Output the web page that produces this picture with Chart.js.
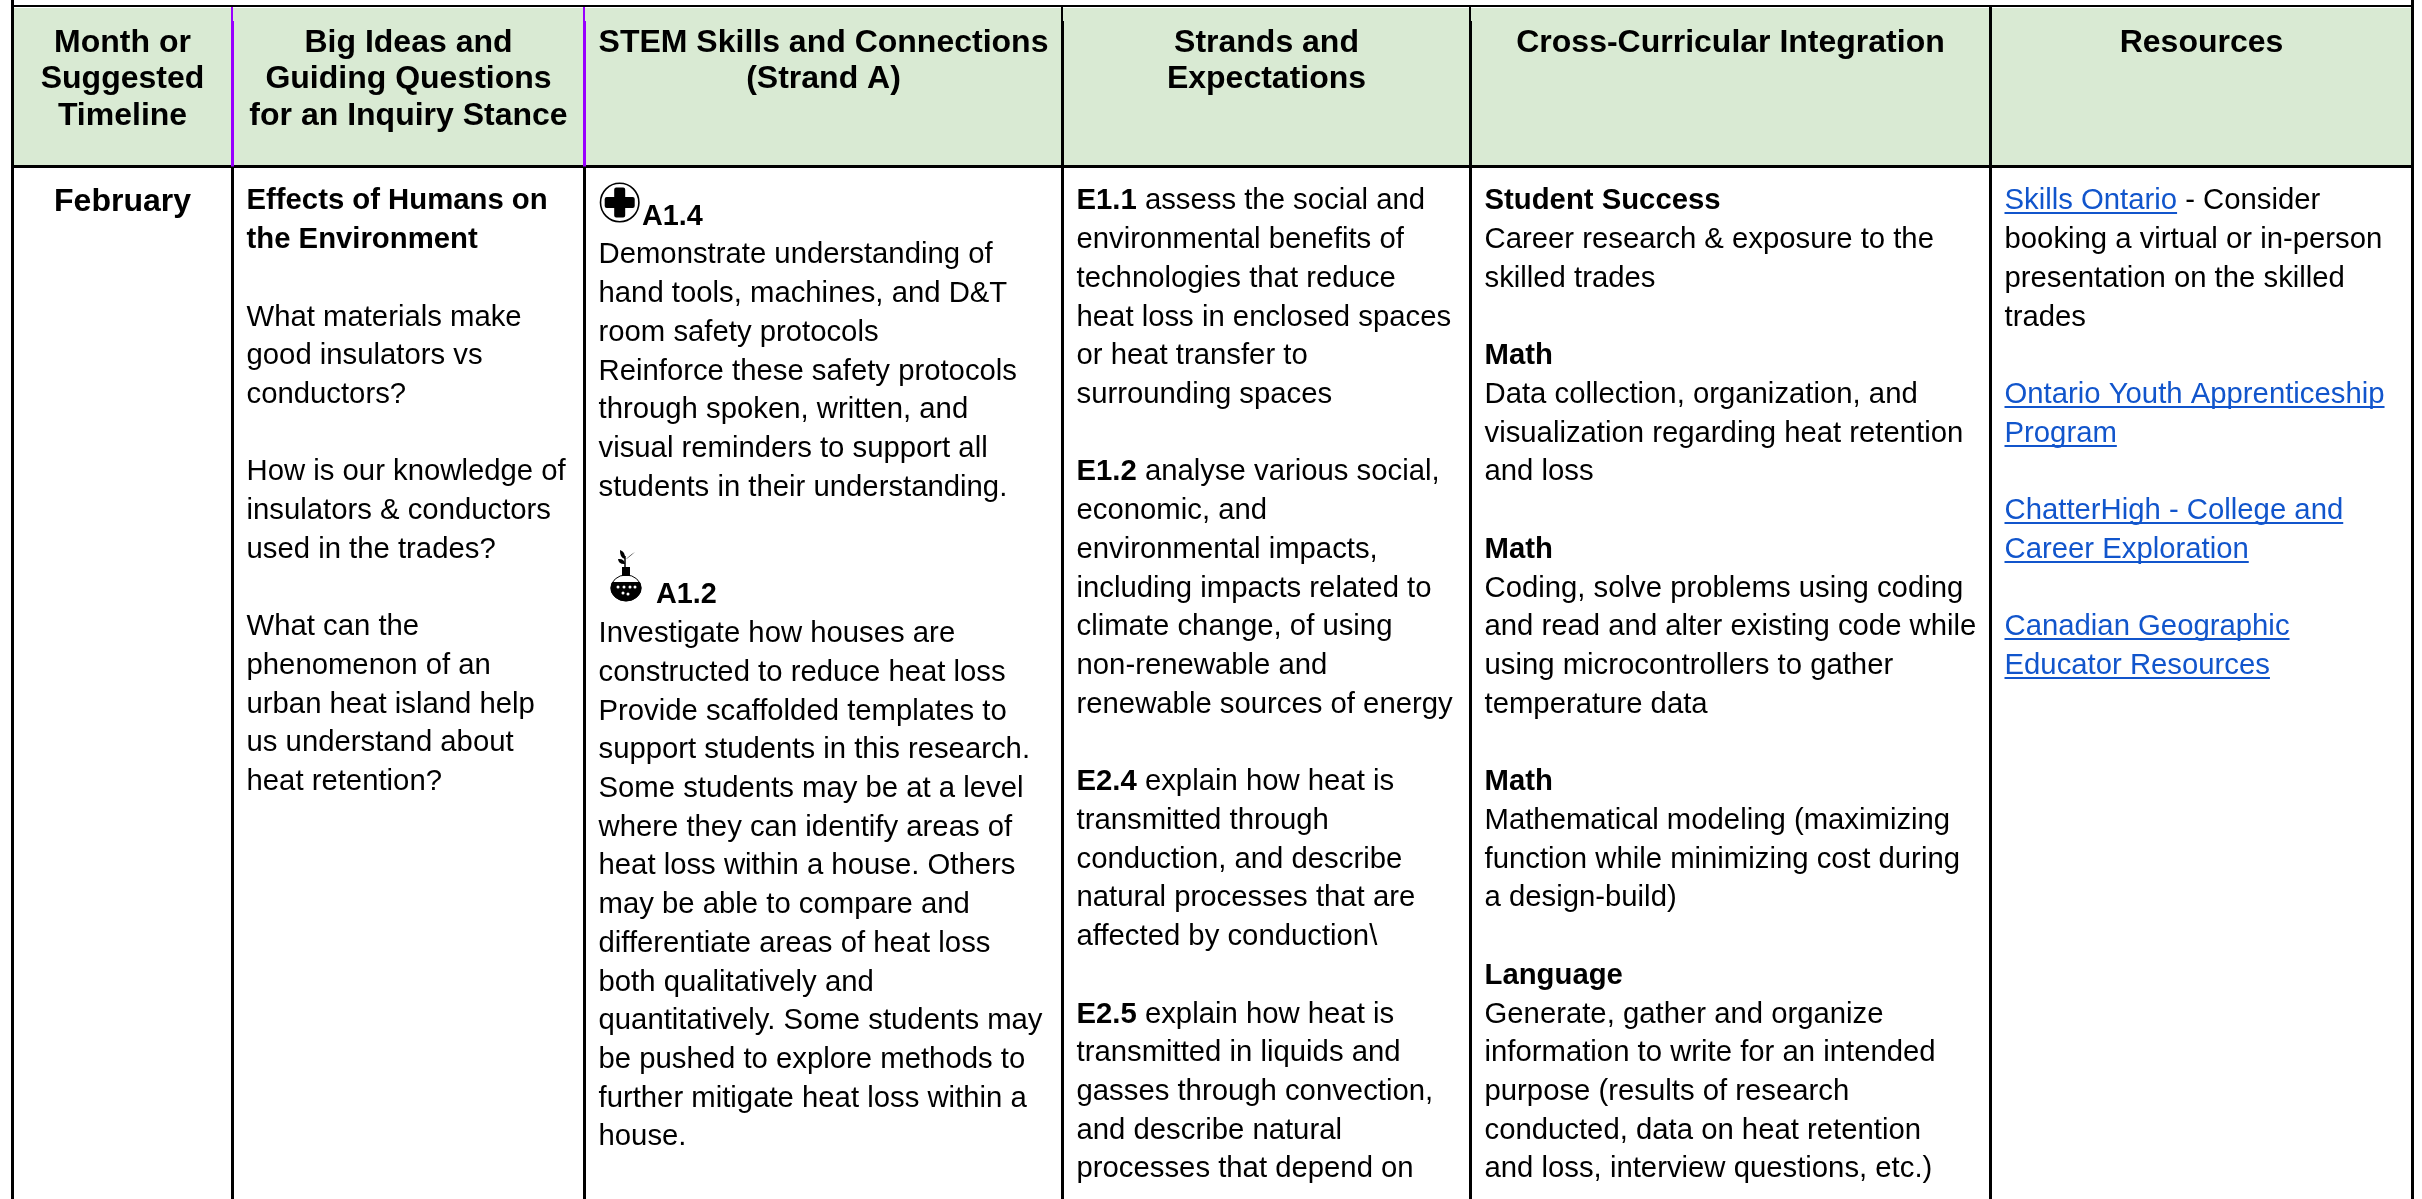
<!DOCTYPE html>
<html>
<head>
<meta charset="utf-8">
<style>html,body{margin:0;padding:0;background:#fff}canvas{display:block}</style>
<script src="https://cdn.jsdelivr.net/npm/chart.js@4"></script>
</head>
<body>
<canvas id="c" width="2422" height="1199"></canvas>
<script>
// ---- table content -----------------------------------------------------
const columnEdges = [12.5, 232.5, 584.5, 1062.5, 1470.5, 1990.5, 2412.5];
const rowEdges = [6, 166.5];
const headers = [
  ["Month or", "Suggested", "Timeline"],
  ["Big Ideas and", "Guiding Questions", "for an Inquiry Stance"],
  ["STEM Skills and Connections", "(Strand A)"],
  ["Strands and", "Expectations"],
  ["Cross-Curricular Integration"],
  ["Resources"]
];
const monthColumn = ["February"];
const bigIdeas = [
  "*Effects of Humans on", "*the Environment", "",
  "What materials make", "good insulators vs", "conductors?", "",
  "How is our knowledge of", "insulators & conductors", "used in the trades?", "",
  "What can the", "phenomenon of an", "urban heat island help", "us understand about", "heat retention?"
];
const stemSafety = [
  "Demonstrate understanding of", "hand tools, machines, and D&T", "room safety protocols",
  "Reinforce these safety protocols", "through spoken, written, and",
  "visual reminders to support all", "students in their understanding."
];
const stemHeat = [
  "Investigate how houses are", "constructed to reduce heat loss", "Provide scaffolded templates to",
  "support students in this research.", "Some students may be at a level", "where they can identify areas of",
  "heat loss within a house. Others", "may be able to compare and", "differentiate areas of heat loss",
  "both qualitatively and", "quantitatively. Some students may", "be pushed to explore methods to",
  "further mitigate heat loss within a", "house."
];
const stemCodes = ["A1.4", "A1.2"];
const strands = [
  "[E1.1] assess the social and", "environmental benefits of", "technologies that reduce",
  "heat loss in enclosed spaces", "or heat transfer to", "surrounding spaces", "",
  "[E1.2] analyse various social,", "economic, and", "environmental impacts,",
  "including impacts related to", "climate change, of using", "non-renewable and",
  "renewable sources of energy", "",
  "[E2.4] explain how heat is", "transmitted through", "conduction, and describe",
  "natural processes that are", "affected by conduction\\", "",
  "[E2.5] explain how heat is", "transmitted in liquids and", "gasses through convection,",
  "and describe natural", "processes that depend on"
];
const crossCurricular = [
  "*Student Success", "Career research & exposure to the", "skilled trades", "",
  "*Math", "Data collection, organization, and", "visualization regarding heat retention", "and loss", "",
  "*Math", "Coding, solve problems using coding", "and read and alter existing code while",
  "using microcontrollers to gather", "temperature data", "",
  "*Math", "Mathematical modeling (maximizing", "function while minimizing cost during", "a design-build)", "",
  "*Language", "Generate, gather and organize", "information to write for an intended",
  "purpose (results of research", "conducted, data on heat retention", "and loss, interview questions, etc.)"
];
const resources = [
  "{Skills Ontario} - Consider", "booking a virtual or in-person", "presentation on the skilled", "trades", "",
  "{Ontario Youth Apprenticeship}", "{Program}", "",
  "{ChatterHigh - College and}", "{Career Exploration}", "",
  "{Canadian Geographic}", "{Educator Resources}"
];

// ---- style --------------------------------------------------------------
const FONT = '"Liberation Sans", Arial, sans-serif';
const BODY = 29.3, HEAD = 32, CODE = 28.8, PITCH = 38.72, HEADPITCH = 36.7;
const INK = "#000000", LINK = "#1155cc", HEADFILL = "#d9ead3", PURPLE = "#9900ff";
const PAD = 14, BOTTOM = 1199, HEADBASE = 51.5, BODYBASE = 209.4, FILLTOP = 8;

function seg(x0, y0, x1, y1, color, w, extra) {
  return Object.assign({
    data: [{x: x0, y: y0}, {x: x1, y: y1}],
    showLine: true, pointRadius: 0, borderColor: color, borderWidth: w, borderCapStyle: "butt"
  }, extra || {});
}
const right = columnEdges[columnEdges.length - 1];
const datasets = [];
datasets.push(seg(columnEdges[0], rowEdges[0], right, rowEdges[0], INK, 2));
datasets.push(seg(columnEdges[0], FILLTOP, right, FILLTOP, "rgba(0,0,0,0)", 0));
datasets.push(seg(columnEdges[0], rowEdges[1], right, rowEdges[1], INK, 3, {fill: {target: 1, above: HEADFILL, below: HEADFILL}, order: 5}));
columnEdges.forEach((x, i) => {
  const isEnd = i === 0 || i === columnEdges.length - 1;
  const purple = i === 1 || i === 2;
  if (isEnd) { datasets.push(seg(x, 0, x, BOTTOM, INK, 3)); return; }
  if (i === 5) {
    datasets.push(seg(x, rowEdges[0], x, rowEdges[1], INK, 3));
  } else {
    datasets.push(seg(x - 0.5, rowEdges[0], x - 0.5, 21, purple ? PURPLE : INK, 2));
    datasets.push(seg(x, 21, x, rowEdges[1], purple ? PURPLE : INK, 3));
  }
  datasets.push(seg(x, rowEdges[1], x, BOTTOM, INK, 3));
});

function drawRuns(ctx, line, x, y, size) {
  // "*..." whole bold line, "[..]" bold run, "{..}" link run
  let parts = [];
  if (line[0] === "*") parts.push({t: line.slice(1), b: true});
  else {
    const re = /\[([^\]]*)\]|\{([^}]*)\}|([^\[{]+)/g; let m;
    while ((m = re.exec(line))) {
      if (m[1] !== undefined) parts.push({t: m[1], b: true});
      else if (m[2] !== undefined) parts.push({t: m[2], l: true});
      else parts.push({t: m[3]});
    }
  }
  let cx = x;
  parts.forEach(p => {
    ctx.font = (p.b ? "bold " : "") + size + "px " + FONT;
    ctx.fillStyle = p.l ? LINK : INK;
    ctx.fillText(p.t, cx, y);
    const w = ctx.measureText(p.t).width;
    if (p.l) ctx.fillRect(cx, Math.round(y) + 3, w, 2);
    cx += w;
  });
}

const tablePlugin = {
  id: "tableText",
  afterDatasetsDraw(chart) {
    const ctx = chart.ctx, X = chart.scales.x, Y = chart.scales.y;
    const px = v => X.getPixelForValue(v), py = v => Y.getPixelForValue(v);
    ctx.save();
    ctx.textBaseline = "alphabetic";
    ctx.textAlign = "center";
    ctx.fillStyle = INK;
    ctx.font = "bold " + HEAD + "px " + FONT;
    headers.forEach((lines, c) => {
      const cx = px((columnEdges[c] + columnEdges[c + 1]) / 2);
      lines.forEach((t, i) => ctx.fillText(t, cx, py(HEADBASE + i * HEADPITCH)));
    });
    ctx.fillText(monthColumn[0], px((columnEdges[0] + columnEdges[1]) / 2), py(211));
    ctx.textAlign = "left";
    const block = (lines, col, base) => lines.forEach((t, i) => {
      if (t) drawRuns(ctx, t, px(columnEdges[col] + PAD), py(base + i * PITCH), BODY);
    });
    block(bigIdeas, 1, BODYBASE);
    block(strands, 3, BODYBASE);
    block(crossCurricular, 4, BODYBASE);
    block(resources, 5, BODYBASE);
    block(stemSafety, 2, 263.4);
    block(stemHeat, 2, 642.1);
    ctx.font = "bold " + CODE + "px " + FONT;
    ctx.fillStyle = INK;
    ctx.fillText(stemCodes[0], px(642), py(225));
    ctx.fillText(stemCodes[1], px(656), py(602.7));

    // safety icon
    ctx.lineWidth = 1.6; ctx.strokeStyle = INK;
    ctx.beginPath(); ctx.arc(px(619.7), py(202.5), 19.2, 0, Math.PI * 2); ctx.stroke();
    ctx.beginPath();
    ctx.roundRect(px(604.7), py(197), 30, 11, 2);
    ctx.roundRect(px(614.2), py(187.5), 11, 30, 2);
    ctx.fill();
    // flask icon
    const fx = px(626), fy = py(588);
    ctx.lineWidth = 1;
    ctx.beginPath(); ctx.ellipse(fx, fy, 15, 13, 0, 0, Math.PI * 2); ctx.stroke();
    ctx.save();
    ctx.beginPath(); ctx.ellipse(fx, fy, 15.5, 13.2, 0, 0, Math.PI * 2); ctx.clip();
    ctx.fillRect(fx - 16, fy - 6, 32, 20);
    ctx.restore();
    ctx.fillRect(fx - 4, fy - 21, 8, 9);
    ctx.lineWidth = 1.5;
    ctx.beginPath(); ctx.moveTo(fx - 1, fy - 21); ctx.lineTo(fx - 1, fy - 32); ctx.stroke();
    const leaf = (x0, y0, x1, y1, b) => {
      ctx.beginPath(); ctx.moveTo(fx + x0, fy + y0);
      ctx.quadraticCurveTo(fx + (x0 + x1) / 2 + b, fy + (y0 + y1) / 2 - b, fx + x1, fy + y1);
      ctx.quadraticCurveTo(fx + (x0 + x1) / 2 - b, fy + (y0 + y1) / 2 + b, fx + x0, fy + y0);
      ctx.fill();
    };
    leaf(-1, -24, -8, -29, 3);
    leaf(-1, -29, -6, -38, 3);
    leaf(0, -29, 9, -36, 3);
    ctx.fillStyle = "#ffffff";
    [[-8, -1], [-2, -1], [4, -1], [9, -1], [-3, 5], [2, 6]].forEach(d => {
      ctx.beginPath(); ctx.arc(fx + d[0], fy + d[1], 1.5, 0, Math.PI * 2); ctx.fill();
    });
    ctx.restore();
  }
};

new Chart(document.getElementById("c"), {
  type: "scatter",
  data: {datasets},
  options: {
    responsive: false, animation: false, devicePixelRatio: 1,
    layout: {padding: 0},
    plugins: {legend: {display: false}, tooltip: {enabled: false}},
    scales: {
      x: {type: "linear", min: 0, max: 2422, display: false},
      y: {type: "linear", min: 0, max: 1199, reverse: true, display: false}
    }
  },
  plugins: [tablePlugin]
});
</script>
</body>
</html>
